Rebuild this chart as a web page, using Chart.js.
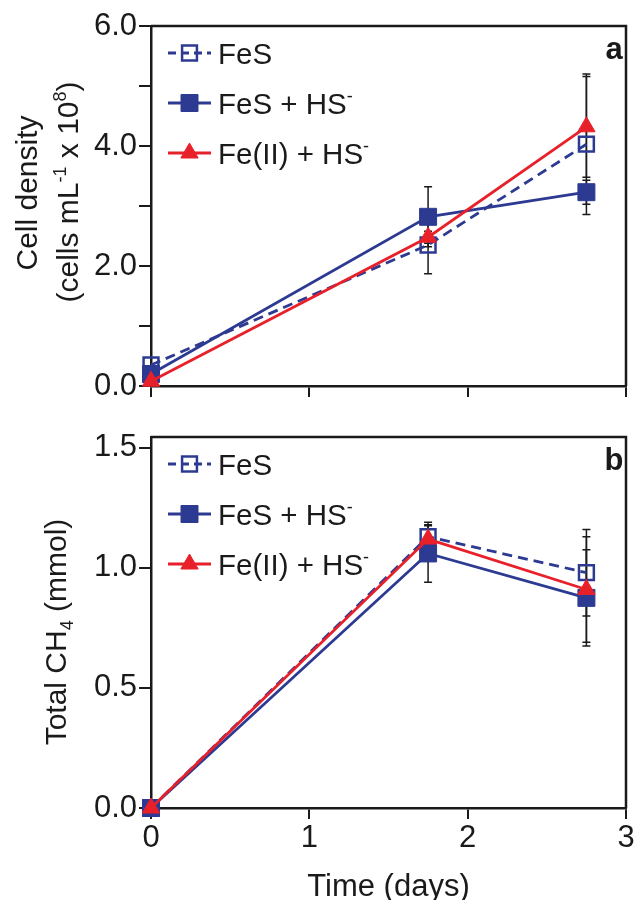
<!DOCTYPE html>
<html>
<head>
<meta charset="utf-8">
<script src="https://cdn.jsdelivr.net/npm/chart.js@4.4.1/dist/chart.umd.min.js"></script>
<style>
  body { margin: 0; background: #fff; }
  #wrap { position: relative; width: 639px; height: 900px; }
  #topChart { position: absolute; left: 0; top: 0; }
  #bottomChart { position: absolute; left: 0; top: 410px; }
</style>
</head>
<body>
<div id="wrap">
  <canvas id="topChart" width="639" height="410"></canvas>
  <canvas id="bottomChart" width="639" height="490"></canvas>
</div>
<script>
// time points (days)
var days = [0, 1.75, 2.75];

// series names, with the superscript part kept apart
var seriesNames = ['FeS', 'FeS + HS', 'Fe(II) + HS'];
var seriesSup = ['', '-', '-'];

// panel a: cell density (cells mL-1 x 10^8)
var cellFeS = [0.35, 2.35, 4.03];
var cellFeSErr = [0, 0.48, 1.17];
var cellFeSHS = [0.2, 2.82, 3.23];
var cellFeSHSErr = [0, 0.5, 0.2];
var cellFe2HS = [0.08, 2.48, 4.32];
var cellFe2HSErr = [0, 0.1, 0.84];

// panel b: total CH4 (mmol)
var ch4FeS = [0, 1.13, 0.98];
var ch4FeSErr = [0, 0.06, 0.18];
var ch4FeSHS = [0, 1.06, 0.875];
var ch4FeSHSErr = [0, 0.12, 0.2];
var ch4Fe2HS = [0, 1.12, 0.91];
var ch4Fe2HSErr = [0, 0.055, 0.22];

// ticks
var xTicks = [0, 1, 2, 3];
var xTickLabels = ['0', '1', '2', '3'];
var cellTicks = [0, 1, 2, 3, 4, 5, 6];
var cellTickLabels = ['0.0', '', '2.0', '', '4.0', '', '6.0'];
var ch4Ticks = [0, 0.5, 1, 1.5];
var ch4TickLabels = ['0.0', '0.5', '1.0', '1.5'];

var BLUE = '#2d3a92';
var RED = '#e8202a';
var INK = '#1a1a1a';
var FAMILY = '"Liberation Sans", Arial, Helvetica, sans-serif';

Chart.defaults.font.family = FAMILY;
Chart.defaults.color = INK;

function pts(vals) {
  return vals.map(function (v, i) { return { x: days[i], y: v }; });
}

function makeSets(a, aErr, b, bErr, c, cErr) {
  return [
    {
      label: seriesNames[0], data: pts(a), errors: aErr,
      borderColor: BLUE, borderWidth: 2.8, borderDash: [10, 6],
      pointStyle: 'rect', pointRadius: 10.5, pointBorderWidth: 2.5,
      pointBorderColor: BLUE, pointBackgroundColor: 'rgba(0,0,0,0)',
      clip: false, order: 1
    },
    {
      label: seriesNames[1], data: pts(b), errors: bErr,
      borderColor: BLUE, borderWidth: 2.8,
      pointStyle: 'rect', pointRadius: 12, pointBorderWidth: 1,
      pointBorderColor: BLUE, pointBackgroundColor: BLUE,
      clip: false, order: 2
    },
    {
      label: seriesNames[2], data: pts(c), errors: cErr,
      borderColor: RED, borderWidth: 2.8,
      pointStyle: 'triangle', pointRadius: 10, pointBorderWidth: 1,
      pointBorderColor: RED, pointBackgroundColor: RED,
      clip: false, order: 0
    }
  ];
}

// vertical error bars with caps, drawn under the markers
var errorBars = {
  id: 'errorBars',
  beforeDatasetsDraw: function (chart) {
    var ctx = chart.ctx, ys = chart.scales.y;
    ctx.save();
    ctx.strokeStyle = INK;
    ctx.lineWidth = 1.5;
    chart.data.datasets.forEach(function (ds, i) {
      var meta = chart.getDatasetMeta(i);
      meta.data.forEach(function (pt, j) {
        var e = ds.errors[j];
        if (!e) return;
        var v = ds.data[j].y;
        var t = ys.getPixelForValue(v + e), b = ys.getPixelForValue(v - e);
        ctx.beginPath();
        ctx.moveTo(pt.x, t); ctx.lineTo(pt.x, b);
        ctx.moveTo(pt.x - 4, t); ctx.lineTo(pt.x + 4, t);
        ctx.moveTo(pt.x - 4, b); ctx.lineTo(pt.x + 4, b);
        ctx.stroke();
      });
    });
    ctx.restore();
  }
};

// text with super/subscripts: segs = [{t, size, dy}]
function drawRich(ctx, segs, x, y, rot, align) {
  ctx.save();
  ctx.translate(x, y);
  ctx.rotate(rot || 0);
  ctx.textBaseline = 'alphabetic';
  ctx.textAlign = 'left';
  var total = 0;
  segs.forEach(function (s) {
    ctx.font = (s.bold ? 'bold ' : '') + s.size + 'px ' + FAMILY;
    s.w = ctx.measureText(s.t).width;
    total += s.w;
  });
  var cx = align === 'left' ? 0 : -total / 2;
  segs.forEach(function (s) {
    ctx.font = (s.bold ? 'bold ' : '') + s.size + 'px ' + FAMILY;
    ctx.fillText(s.t, cx, s.dy || 0);
    cx += s.w;
  });
  ctx.restore();
}

var decorations = {
  id: 'decorations',
  afterDraw: function (chart, args, opts) {
    var ctx = chart.ctx, ca = chart.chartArea;
    ctx.save();
    // frame: top and right sides
    ctx.strokeStyle = INK;
    ctx.lineWidth = 2.5;
    ctx.beginPath();
    ctx.moveTo(ca.left, ca.top);
    ctx.lineTo(ca.right, ca.top);
    ctx.lineTo(ca.right, ca.bottom);
    ctx.stroke();
    ctx.fillStyle = INK;

    // legend
    chart.data.datasets.forEach(function (ds, i) {
      var y = ca.top + 27 + i * 50;
      ctx.save();
      ctx.strokeStyle = ds.borderColor;
      ctx.lineWidth = ds.borderWidth;
      ctx.setLineDash(ds.borderDash ? [8, 5] : []);
      ctx.beginPath();
      ctx.moveTo(168, y); ctx.lineTo(211, y);
      ctx.stroke();
      ctx.setLineDash([]);
      ctx.strokeStyle = ds.pointBorderColor;
      ctx.fillStyle = ds.pointBackgroundColor;
      ctx.lineWidth = ds.pointBorderWidth;
      Chart.helpers.drawPoint(ctx, {
        pointStyle: ds.pointStyle, radius: ds.pointRadius,
        borderWidth: ds.pointBorderWidth, rotation: 0
      }, 189.5, y);
      ctx.restore();
      ctx.fillStyle = INK;
      var segs = [{ t: ds.label, size: 29.5 }];
      if (seriesSup[i]) segs.push({ t: seriesSup[i], size: 18, dy: -12 });
      drawRich(ctx, segs, 218, y + 10.5, 0, 'left');
    });

    // panel letter
    drawRich(ctx, [{ t: opts.letter, size: 31, bold: true }], 614, ca.top + 33, 0);

    // y title
    opts.yTitle.forEach(function (line) {
      drawRich(ctx, line.segs, line.x, ca.top + line.dy, -Math.PI / 2);
    });

    // x title
    if (opts.xTitle) {
      drawRich(ctx, [{ t: opts.xTitle, size: 31 }], (ca.left + ca.right) / 2, ca.bottom + 88, 0);
    }
    ctx.restore();
  }
};

function axisX(showLabels, height) {
  return {
    type: 'linear', min: 0, max: 3,
    afterBuildTicks: function (s) { s.ticks = xTicks.map(function (v) { return { value: v }; }); },
    afterFit: function (s) { s.height = height; },
    ticks: {
      font: { size: 31 }, color: INK, padding: 1, maxRotation: 0,
      callback: function (v) { return showLabels ? xTickLabels[xTicks.indexOf(v)] : ''; }
    },
    grid: { display: true, drawOnChartArea: false, drawTicks: true, tickLength: 11, color: INK, lineWidth: 2 },
    border: { display: true, color: INK, width: 2.5 }
  };
}

function axisY(min, max, tickVals, tickLabels) {
  return {
    type: 'linear', min: min, max: max,
    afterBuildTicks: function (s) { s.ticks = tickVals.map(function (v) { return { value: v }; }); },
    afterFit: function (s) { s.width = 151; },
    ticks: {
      font: { size: 31 }, color: INK, padding: 2,
      callback: function (v) { return tickLabels[tickVals.indexOf(v)]; }
    },
    grid: { display: true, drawOnChartArea: false, drawTicks: true, tickLength: 12, color: INK, lineWidth: 2 },
    border: { display: true, color: INK, width: 2.5 }
  };
}

var topChart = new Chart(document.getElementById('topChart'), {
  type: 'line',
  data: { datasets: makeSets(cellFeS, cellFeSErr, cellFeSHS, cellFeSHSErr, cellFe2HS, cellFe2HSErr) },
  options: {
    responsive: false, animation: false, events: [],
    layout: { padding: { top: 26, right: 8, left: 0, bottom: 0 } },
    elements: { line: { tension: 0 } },
    scales: { x: axisX(false, 24), y: axisY(0, 6, cellTicks, cellTickLabels) },
    plugins: {
      legend: { display: false }, tooltip: { enabled: false },
      decorations: {
        letter: 'a',
        yTitle: [
          { x: 37, dy: 167, segs: [{ t: 'Cell density', size: 30 }] },
          { x: 78, dy: 166, segs: [{ t: '(cells mL', size: 30 }, { t: '-1', size: 18, dy: -12 },
            { t: ' x 10', size: 30 }, { t: '8', size: 18, dy: -12 }, { t: ')', size: 30 }] }
        ]
      }
    }
  },
  plugins: [errorBars, decorations]
});

var bottomChart = new Chart(document.getElementById('bottomChart'), {
  type: 'line',
  data: { datasets: makeSets(ch4FeS, ch4FeSErr, ch4FeSHS, ch4FeSHSErr, ch4Fe2HS, ch4Fe2HSErr) },
  options: {
    responsive: false, animation: false, events: [],
    layout: { padding: { top: 27, right: 8, left: 0, bottom: 0 } },
    elements: { line: { tension: 0 } },
    scales: { x: axisX(true, 92), y: axisY(0, 1.545, ch4Ticks, ch4TickLabels) },
    plugins: {
      legend: { display: false }, tooltip: { enabled: false },
      decorations: {
        letter: 'b',
        xTitle: 'Time (days)',
        yTitle: [
          { x: 66, dy: 195, segs: [{ t: 'Total CH', size: 30 }, { t: '4', size: 18, dy: 7 },
            { t: ' (mmol)', size: 30 }] }
        ]
      }
    }
  },
  plugins: [errorBars, decorations]
});
</script>
</body>
</html>
